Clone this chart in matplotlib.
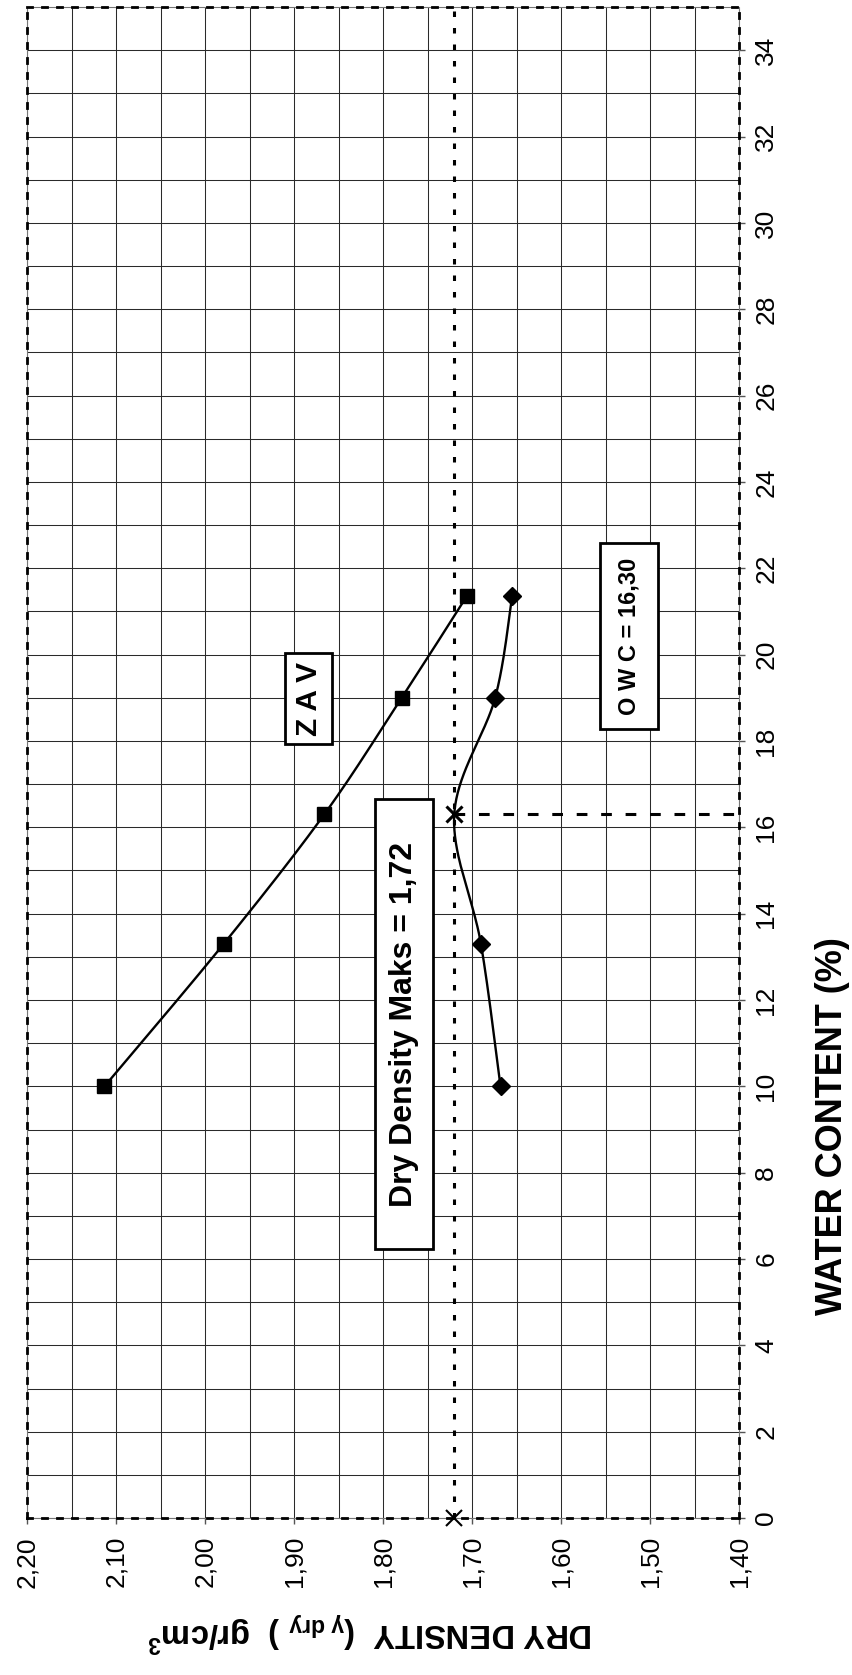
import numpy as np
import matplotlib
matplotlib.use("Agg")
import matplotlib.pyplot as plt
from matplotlib.patches import Rectangle

plt.rcParams['font.family'] = ['Liberation Sans', 'DejaVu Sans']
plt.rcParams['mathtext.fontset'] = 'custom'
plt.rcParams['mathtext.rm'] = 'Liberation Sans'
plt.rcParams['mathtext.it'] = 'Liberation Sans'
plt.rcParams['mathtext.bf'] = 'Liberation Sans:bold'

# Proctor compaction test results
water_content = [10.0, 13.3, 16.3, 19.0, 21.35]       # %
dry_density = [1.668, 1.690, 1.720, 1.674, 1.655]      # gr/cm3
zav_density = [2.113, 1.979, 1.866, 1.779, 1.706]      # zero air voids, gr/cm3
owc = 16.30
mdd = 1.72

density_ticks = [2.20, 2.10, 2.00, 1.90, 1.80, 1.70, 1.60, 1.50, 1.40]
water_ticks = list(range(0, 35, 2))
density_lim = (2.20, 1.40)
water_lim = (0, 35)


def smooth(xs, ys, sx, sy, n=40):
    """Bezier smoothing through the points (Excel-style), in screen-like units."""
    P = np.column_stack([np.asarray(xs) / sx, np.asarray(ys) / sy])
    P = np.vstack([P[0], P, P[-1]])
    out = []
    t = np.linspace(0, 1, n)[:, None]
    for i in range(1, len(P) - 2):
        p0, p1, p2, p3 = P[i - 1], P[i], P[i + 1], P[i + 2]
        c1 = p1 + (p2 - p0) / 6
        c2 = p2 - (p3 - p1) / 6
        seg = (1 - t) ** 3 * p1 + 3 * (1 - t) ** 2 * t * c1 + 3 * (1 - t) * t ** 2 * c2 + t ** 3 * p2
        out.append(seg if i == 1 else seg[1:])
    out = np.vstack(out)
    return out[:, 0] * sx, out[:, 1] * sy


fig = plt.figure(figsize=(8.53, 16.75), dpi=100)
ax = fig.add_axes([0.0317, 0.0937, 0.8347, 0.9021])
ax.set_xlim(*density_lim)
ax.set_ylim(*water_lim)

# grid
ax.set_xticks(density_ticks)
ax.set_xticks(np.arange(1.45, 2.20, 0.1), minor=True)
ax.set_yticks(water_ticks)
ax.set_yticks(np.arange(1, 35, 2), minor=True)
ax.grid(which='both', color='#2a2a2a', lw=0.75)
ax.set_axisbelow(True)

ax.set_xticklabels([f"{v:.2f}".replace('.', ',') for v in density_ticks],
                   rotation=90, fontsize=19, va='top', ha='center')
ax.yaxis.tick_right()
ax.set_yticklabels([str(v) for v in water_ticks], rotation=90, fontsize=19,
                   va='center', ha='left')
ax.tick_params(which='major', direction='out', length=4, width=1, color='#555555', pad=7)
ax.tick_params(axis='x', pad=9)
ax.tick_params(which='minor', length=0)

# plot-area border: thin grey line under a heavy dotted one
ax.add_patch(Rectangle((0, 0), 1, 1, transform=ax.transAxes, fill=False,
                       edgecolor='#777777', lw=0.8, zorder=2.4, clip_on=False))
for sp in ax.spines.values():
    sp.set_linestyle((0, (1.8, 3.6)))
    sp.set_linewidth(2.0)
    sp.set_color('black')

sx = (density_lim[0] - density_lim[1]) / 712.0
sy = (water_lim[1] - water_lim[0]) / 1511.0

# zero air voids line
zx, zy = smooth(zav_density, water_content, sx, sy)
ax.plot(zx, zy, color='black', lw=1.7, zorder=4)
ax.plot(zav_density, water_content, linestyle='none', marker='s', ms=10,
        color='black', zorder=5)

# compaction curve
cx, cy = smooth(dry_density, water_content, sx, sy)
ax.plot(cx, cy, color='black', lw=1.7, zorder=4)
ax.plot(dry_density, water_content, linestyle='none', marker='D', ms=9.5,
        color='black', markevery=[0, 1, 3, 4], zorder=5)

# maximum dry density / optimum water content guides
ax.axvline(mdd, color='black', lw=2.2, linestyle=(0, (1.8, 3.6)), zorder=3)
ax.plot([mdd, density_lim[1]], [owc, owc], color='black', lw=2.2,
        linestyle=(0, (3.5, 4.5)), zorder=3)
ax.plot([mdd], [owc], marker='x', ms=11, mew=2.2, color='black', zorder=6)
ax.plot([mdd], [0], marker='x', ms=11, mew=1.5, color='black', zorder=6, clip_on=False)


def label_box(xc, yc, w_px, h_px, text, size):
    x0, x1 = xc + w_px / 2 * sx, xc - w_px / 2 * sx
    y0 = yc - h_px / 2 * sy
    ax.add_patch(Rectangle((x0, y0), x1 - x0, h_px * sy, facecolor='white',
                           edgecolor='black', lw=2.0, zorder=7))
    ax.text(xc, yc, text, rotation=90, ha='center', va='center', fontsize=size,
            fontweight='bold', zorder=8)


label_box(1.7765, 11.44, 58, 450, "Dry Density Maks = 1,72", 23)
label_box(1.8835, 18.98, 47, 91, "Z A V", 21.5)
label_box(1.5235, 20.43, 58, 186, "O W C = 16,30", 17)

# axis titles
fig.text(842 / 853, 1 - 1126 / 1675, "WATER CONTENT (%)", rotation=90,
         rotation_mode='anchor', ha='center', va='baseline',
         fontsize=26, fontweight='bold')
fig.text(370 / 853, 1 - 1631 / 1675,
         r"DRY DENSITY  ($_{\mathregular{\gamma\ dry}}$ )  gr/cm$^{\mathregular{3}}$",
         rotation=180, ha='center', va='center', fontsize=23.5, fontweight='bold')

fig.savefig("out.png", dpi=100)
